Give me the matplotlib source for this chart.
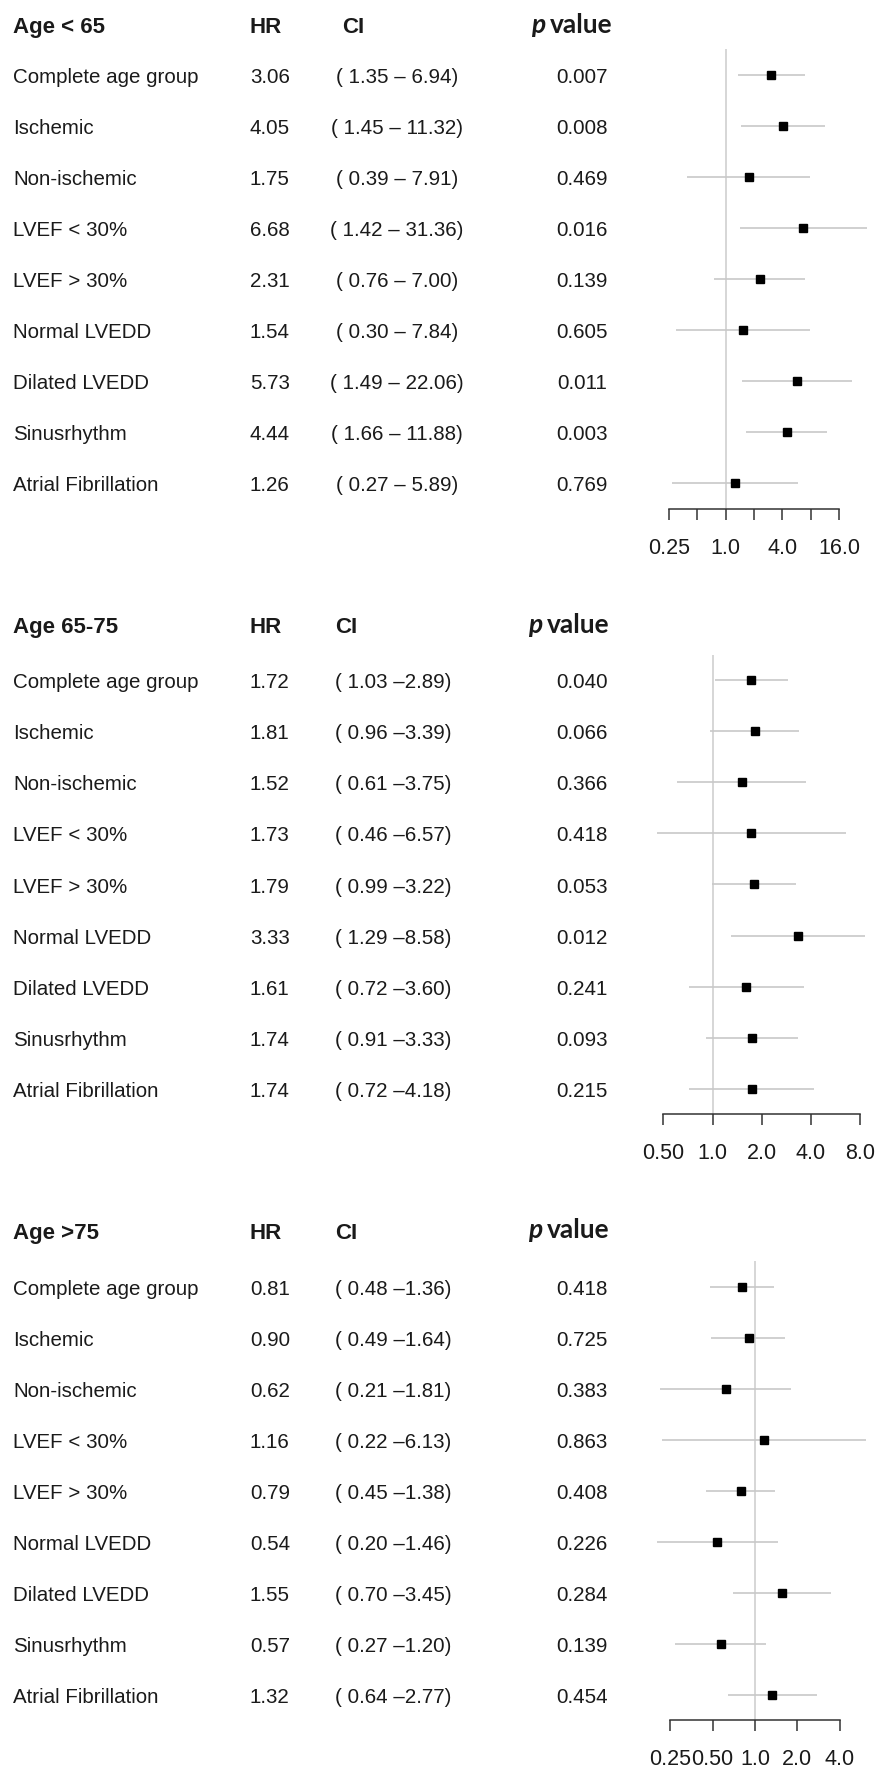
import matplotlib
matplotlib.use('Agg')
import matplotlib.pyplot as plt
import matplotlib.transforms as mtransforms
from matplotlib.ticker import FixedLocator, FixedFormatter, NullLocator
import numpy as np

# ---------------- data ----------------
subgroups = ["Complete age group", "Ischemic", "Non-ischemic", "LVEF < 30%",
             "LVEF > 30%", "Normal LVEDD", "Dilated LVEDD", "Sinusrhythm",
             "Atrial Fibrillation"]

titles = ["Age < 65", "Age 65-75", "Age >75"]

hr_lt65 = [3.06, 4.05, 1.75, 6.68, 2.31, 1.54, 5.73, 4.44, 1.26]
lo_lt65 = [1.35, 1.45, 0.39, 1.42, 0.76, 0.30, 1.49, 1.66, 0.27]
hi_lt65 = [6.94, 11.32, 7.91, 31.36, 7.00, 7.84, 22.06, 11.88, 5.89]
p_lt65 = ["0.007", "0.008", "0.469", "0.016", "0.139", "0.605", "0.011", "0.003", "0.769"]

hr_65_75 = [1.72, 1.81, 1.52, 1.73, 1.79, 3.33, 1.61, 1.74, 1.74]
lo_65_75 = [1.03, 0.96, 0.61, 0.46, 0.99, 1.29, 0.72, 0.91, 0.72]
hi_65_75 = [2.89, 3.39, 3.75, 6.57, 3.22, 8.58, 3.60, 3.33, 4.18]
p_65_75 = ["0.040", "0.066", "0.366", "0.418", "0.053", "0.012", "0.241", "0.093", "0.215"]

hr_gt75 = [0.81, 0.90, 0.62, 1.16, 0.79, 0.54, 1.55, 0.57, 1.32]
lo_gt75 = [0.48, 0.49, 0.21, 0.22, 0.45, 0.20, 0.70, 0.27, 0.64]
hi_gt75 = [1.36, 1.64, 1.81, 6.13, 1.38, 1.46, 3.45, 1.20, 2.77]
p_gt75 = ["0.418", "0.725", "0.383", "0.863", "0.408", "0.226", "0.284", "0.139", "0.454"]

ticks_lt65 = [0.25, 0.5, 1, 2, 4, 8, 16]
ticklabels_lt65 = ["0.25", "", "1.0", "", "4.0", "", "16.0"]
ticks_65_75 = [0.5, 1, 2, 4, 8]
ticklabels_65_75 = ["0.50", "1.0", "2.0", "4.0", "8.0"]
ticks_gt75 = [0.25, 0.5, 1, 2, 4]
ticklabels_gt75 = ["0.25", "0.50", "1.0", "2.0", "4.0"]

# ---------------- layout ----------------
W, H, DPI = 879, 1769, 100
plt.rcParams['font.family'] = ['Liberation Sans', 'DejaVu Sans']

fig = plt.figure(figsize=(W / DPI, H / DPI), dpi=DPI)
fig.patch.set_facecolor('white')

AX_L, AX_R = 640.0, 879.0
FS = 14.8
FS_HDR = 16
FS_TICK = 15.5
TXT = '#1a1a1a'
LEFT_X = 13.5
TDY = 0.05

panels = [
    dict(title=titles[0], hr=hr_lt65, lo=lo_lt65, hi=hi_lt65, p=p_lt65,
         ticks=ticks_lt65, tl=ticklabels_lt65, top=49.2, bot=508.7,
         a=669.0, b=839.0, hdy=-0.97, ci_x=397, p_x=582, ph_x=531, ci_hdr=342,
         ci_fmt="( {:.2f} – {:.2f})"),
    dict(title=titles[1], hr=hr_65_75, lo=lo_65_75, hi=hi_65_75, p=p_65_75,
         ticks=ticks_65_75, tl=ticklabels_65_75, top=654.7, bot=1114.3,
         a=663.3, b=860.3, hdy=-1.08, ci_x=393, p_x=582, ph_x=528, ci_hdr=335,
         ci_fmt="( {:.2f} –{:.2f})"),
    dict(title=titles[2], hr=hr_gt75, lo=lo_gt75, hi=hi_gt75, p=p_gt75,
         ticks=ticks_gt75, tl=ticklabels_gt75, top=1261.2, bot=1720.2,
         a=670.3, b=839.7, hdy=-1.1, ci_x=393, p_x=582, ph_x=528, ci_hdr=335,
         ci_fmt="( {:.2f} –{:.2f})"),
]

renderer = fig.canvas.get_renderer()

for P in panels:
    ax = fig.add_axes([AX_L / W, 1 - P['bot'] / H, (AX_R - AX_L) / W, (P['bot'] - P['top']) / H])
    ax.set_xscale('log', base=2)
    t0, t1 = P['ticks'][0], P['ticks'][-1]
    k = (P['b'] - P['a']) / (np.log2(t1) - np.log2(t0))
    ax.set_xlim(2 ** (np.log2(t0) - (P['a'] - AX_L) / k), 2 ** (np.log2(t1) + (AX_R - P['b']) / k))
    n = len(subgroups)
    ax.set_ylim(n - 0.5, -0.5)
    ax.patch.set_alpha(0)

    ax.axvline(1.0, color='#d0d0d0', lw=1.2, zorder=1)
    ys = np.arange(n)
    ax.hlines(ys, P['lo'], P['hi'], color='#c8c8c8', lw=1.2, zorder=2)
    ax.plot(P['hr'], ys, 's', color='black', ms=5.5, zorder=3)

    for s in ['left', 'right', 'top']:
        ax.spines[s].set_visible(False)
    ax.spines['bottom'].set_bounds(t0, t1)
    ax.spines['bottom'].set_color('#333333')
    ax.spines['bottom'].set_linewidth(1.1)
    ax.yaxis.set_visible(False)
    ax.xaxis.set_major_locator(FixedLocator(P['ticks']))
    ax.xaxis.set_major_formatter(FixedFormatter(P['tl']))
    ax.xaxis.set_minor_locator(NullLocator())
    ax.tick_params(axis='x', direction='out', length=8, width=1.1, color='#333333',
                   pad=13, labelsize=FS_TICK, labelcolor=TXT)

    tr = mtransforms.blended_transform_factory(fig.transFigure, ax.transData)
    hy = P['hdy'] + TDY
    fig.text(LEFT_X / W, hy, P['title'], transform=tr, fontsize=FS_HDR, fontweight='bold',
             ha='left', va='center', color=TXT)
    fig.text(250 / W, hy, "HR", transform=tr, fontsize=FS_HDR, fontweight='bold',
             ha='left', va='center', color=TXT)
    fig.text(P['ci_hdr'] / W, hy, "CI", transform=tr, fontsize=FS_HDR, fontweight='bold',
             ha='left', va='center', color=TXT)
    tp = fig.text(P['ph_x'] / W, hy - 0.06, "p", transform=tr, fontsize=19,
                  fontweight='bold', fontstyle='italic', family=['Lato', 'DejaVu Sans'],
                  ha='left', va='center', color=TXT)
    bb = tp.get_window_extent(renderer=renderer)
    fig.text((bb.x1 + 5) / W, hy - 0.06, "value", transform=tr, fontsize=19,
             fontweight='bold', family=['Lato', 'DejaVu Sans'],
             ha='left', va='center', color=TXT)

    for i in range(n):
        y = i + TDY
        fig.text(LEFT_X / W, y, subgroups[i], transform=tr, fontsize=FS,
                 ha='left', va='center', color=TXT)
        fig.text(250 / W, y, "{:.2f}".format(P['hr'][i]), transform=tr, fontsize=FS,
                 ha='left', va='center', color=TXT)
        fig.text(P['ci_x'] / W, y, P['ci_fmt'].format(P['lo'][i], P['hi'][i]),
                 transform=tr, fontsize=FS, ha='center', va='center', color=TXT)
        fig.text(P['p_x'] / W, y, P['p'][i], transform=tr, fontsize=FS,
                 ha='center', va='center', color=TXT)

fig.savefig('out.png', dpi=DPI, facecolor='white')
